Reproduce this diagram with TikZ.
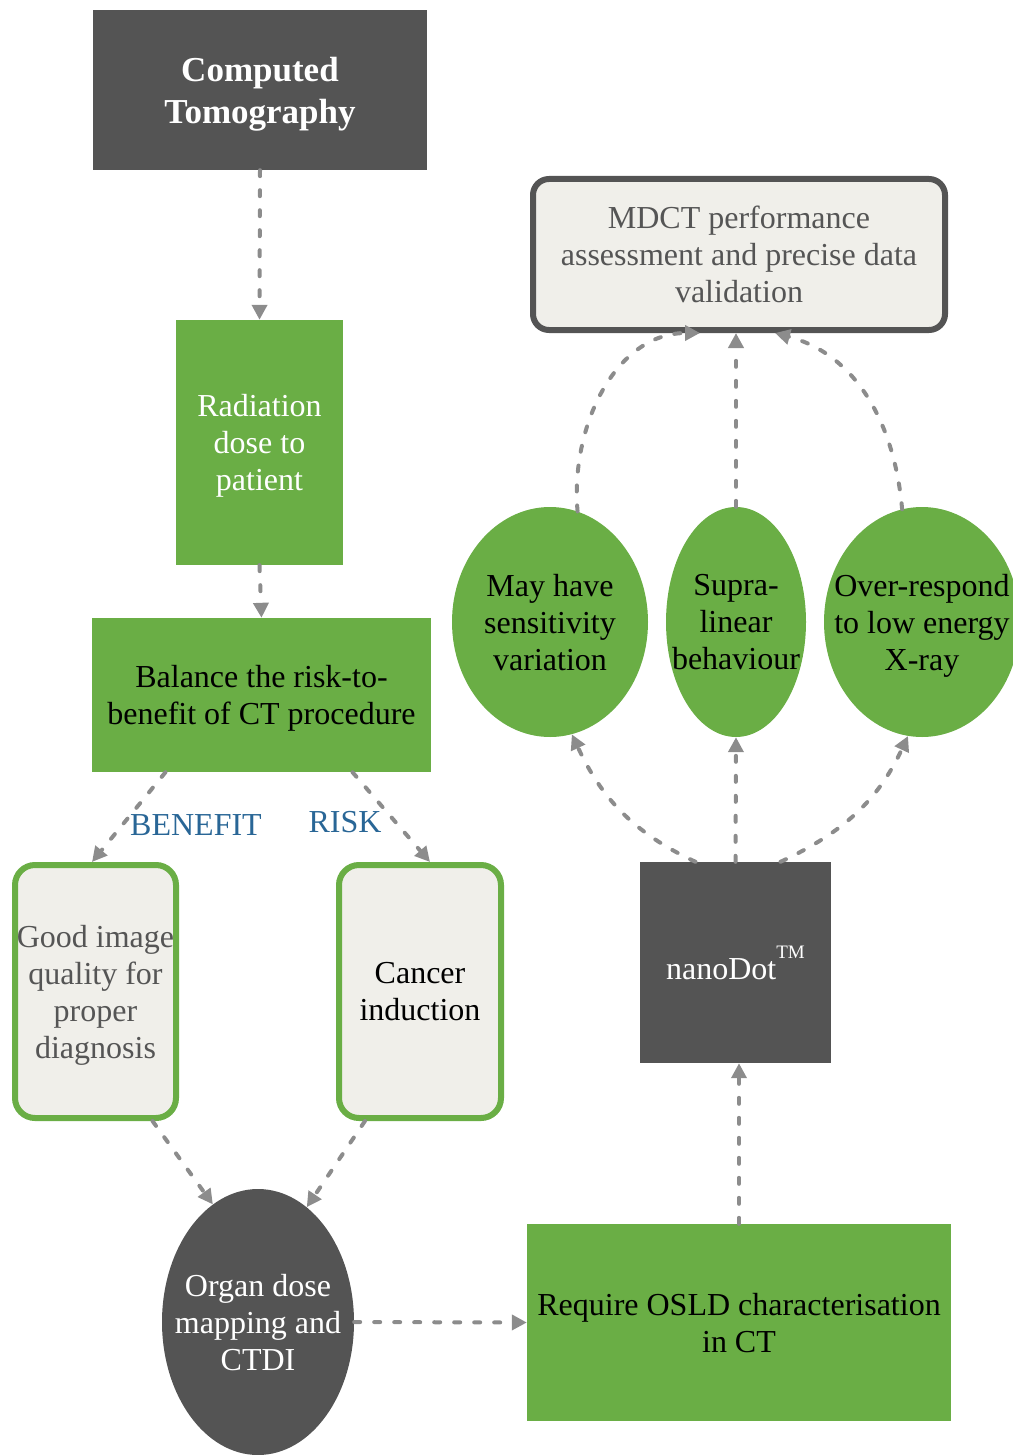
\documentclass[tikz,border=0pt]{standalone}
\usepackage{fontspec}
\setmainfont{Liberation Serif}
\usetikzlibrary{arrows.meta,shapes.geometric}
\definecolor{gg}{RGB}{106,174,69}
\definecolor{dd}{RGB}{84,84,84}
\definecolor{ll}{RGB}{240,239,234}
\definecolor{ar}{RGB}{140,140,140}
\definecolor{bb}{RGB}{41,102,150}
\definecolor{tg}{RGB}{85,85,85}

\begin{document}
\begin{tikzpicture}[
  every node/.style={inner sep=0pt, align=center, font=\fontsize{32}{37}\selectfont},
  darkbox/.style={rectangle, fill=dd, text=white},
  greenbox/.style={rectangle, fill=gg, text=black},
  softbox/.style={rectangle, rounded corners=20pt, fill=ll, draw=gg, line width=6pt},
  blob/.style={ellipse, fill=gg, text=black, inner xsep=-20pt},
  flow/.style={line width=4pt, color=ar, line cap=round, dash pattern=on 6pt off 14pt,
    -{Triangle[length=15pt,width=15pt]}},
  tag/.style={text=bb}
]
\useasboundingbox (0pt,0pt) rectangle (1012pt,-1455pt);
% left column
\node (ct) [darkbox, text depth=-16pt, minimum width=334pt, minimum height=160pt, font=\fontsize{35}{42}\selectfont\bfseries] at (260pt, -90pt) {Computed\\Tomography};
\node (rad) [greenbox, text=white, text depth=1pt, minimum width=167pt, minimum height=245pt] at (259.5pt, -442.5pt) {Radiation\\dose to\\patient};
\node (bal) [greenbox, text depth=-1pt, minimum width=339pt, minimum height=154pt] at (261.5pt, -695pt) {Balance the risk-to-\\benefit of CT procedure};
\node (good) [softbox, text=tg, text depth=-6pt, minimum width=161pt, minimum height=253pt] at (95.5pt, -991.5pt) {Good image\\quality for\\proper\\diagnosis};
\node (canc) [softbox, text depth=-10pt, minimum width=162pt, minimum height=253pt] at (420pt, -991.5pt) {Cancer\\induction};
\node (organ) [ellipse, fill=dd, text=white, inner xsep=-20pt, text depth=-10pt, minimum width=192pt, minimum height=266pt] at (258pt, -1322pt) {Organ dose\\mapping and\\CTDI};
\node (benefit) [tag] at (196pt, -825pt) {BENEFIT};
\node (risk) [tag] at (345pt, -822pt) {RISK};
% right column
\node (osld) [greenbox, text depth=-9pt, minimum width=424pt, minimum height=197pt] at (739pt, -1322.5pt) {Require OSLD characterisation\\in CT};
\node (nano) [darkbox, text depth=-14pt, minimum width=191pt, minimum height=201pt] at (735.5pt, -962.5pt) {nanoDot\raisebox{21pt}{\fontsize{19}{19}\selectfont TM}};
\node (e1) [blob, text depth=-4pt, minimum width=196pt, minimum height=230pt] at (550pt, -622pt) {May have\\sensitivity\\variation};
\node (e2) [blob, text depth=-6pt, minimum width=140pt, minimum height=230pt] at (736pt, -622pt) {Supra-\\linear\\behaviour};
\node (e3) [blob, text depth=-1pt, minimum width=196pt, minimum height=230pt] at (922pt, -622pt) {Over-respond\\to low energy\\X-ray};
\node (mdct) [rectangle, rounded corners=16pt, fill=ll, draw=dd, line width=6pt, text=tg, minimum width=412pt, minimum height=151pt] at (739pt, -254.5pt) {MDCT performance\\assessment and precise data\\validation};
% connectors
\draw [flow] (ct.south) -- (rad.north);
\draw [flow] (rad.south) -- (bal.north);
\draw [flow] ([xshift=-96pt]bal.south) -- ([xshift=-3.5pt]good.north);
\draw [flow] ([xshift=91pt]bal.south) -- ([xshift=10pt]canc.north);
\draw [flow] ([xshift=57pt]good.south) -- (organ.111);
\draw [flow] ([xshift=-55pt]canc.south) -- (organ.67);
\draw [flow] (organ.east) -- (osld.west);
\draw [flow] (osld.north) -- (osld.north |- nano.south);
\draw [flow] ([xshift=-40pt]nano.north) to [out=155, in=-65] (e1.-79);
\draw [flow] (nano.north) -- (e2.south);
\draw [flow] ([xshift=45pt]nano.north) to [out=25, in=-115] (e3.-97);
\draw [flow] (e1.76) to [out=95, in=180] ([xshift=-39pt]mdct.south);
\draw [flow] (e2.north) -- (e2.north |- mdct.south);
\draw [flow] (e3.100) to [out=95, in=-15] ([xshift=36pt]mdct.south);
\end{tikzpicture}
\end{document}
